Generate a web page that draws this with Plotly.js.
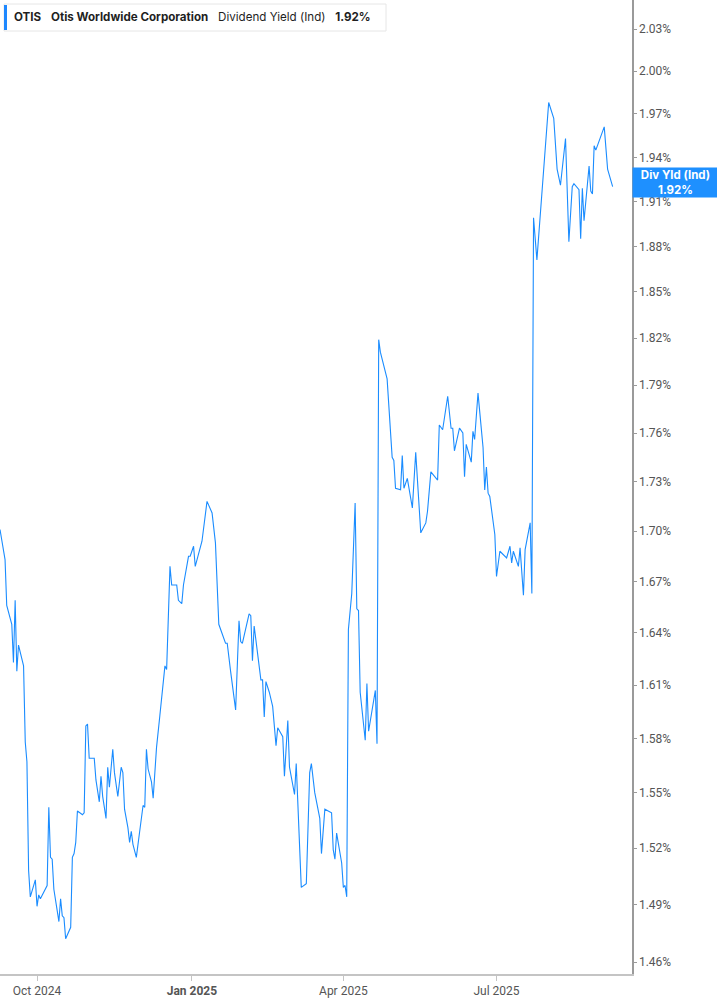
<!DOCTYPE html>
<html>
<head>
<meta charset="utf-8">
<script src="https://cdn.plot.ly/plotly-3.0.1.min.js"></script>
<style>
  html, body { margin: 0; padding: 0; background: #fff; }
  #myDiv { width: 717px; height: 1005px; }
</style>
</head>
<body>
<div id="myDiv"></div>
<script>
// dividend yield (ind), percent
let DATES = [
    "2024-09-09", "2024-09-12", "2024-09-13", "2024-09-16", "2024-09-17", "2024-09-18", "2024-09-19", "2024-09-20",
    "2024-09-23", "2024-09-24", "2024-09-25", "2024-09-26", "2024-09-27", "2024-09-30", "2024-10-01", "2024-10-02",
    "2024-10-03", "2024-10-07", "2024-10-08", "2024-10-09", "2024-10-10", "2024-10-11", "2024-10-14", "2024-10-15",
    "2024-10-16", "2024-10-17", "2024-10-18", "2024-10-21", "2024-10-22", "2024-10-23", "2024-10-24", "2024-10-25",
    "2024-10-28", "2024-10-29", "2024-10-30", "2024-10-31", "2024-11-01", "2024-11-04", "2024-11-05", "2024-11-07",
    "2024-11-08", "2024-11-09", "2024-11-11", "2024-11-12", "2024-11-13", "2024-11-15", "2024-11-16", "2024-11-18",
    "2024-11-20", "2024-11-21", "2024-11-22", "2024-11-24", "2024-11-25", "2024-11-26", "2024-11-27", "2024-11-29",
    "2024-12-01", "2024-12-03", "2024-12-04", "2024-12-05", "2024-12-06", "2024-12-08", "2024-12-09", "2024-12-11",
    "2024-12-13", "2024-12-16", "2024-12-17", "2024-12-19", "2024-12-20", "2024-12-23", "2024-12-24", "2024-12-26",
    "2024-12-27", "2024-12-30", "2024-12-31", "2025-01-02", "2025-01-03", "2025-01-07", "2025-01-10", "2025-01-13",
    "2025-01-15", "2025-01-17", "2025-01-21", "2025-01-22", "2025-01-24", "2025-01-27", "2025-01-29", "2025-01-30",
    "2025-01-31", "2025-02-04", "2025-02-05", "2025-02-06", "2025-02-07", "2025-02-11", "2025-02-12", "2025-02-13",
    "2025-02-14", "2025-02-16", "2025-02-18", "2025-02-20", "2025-02-21", "2025-02-24", "2025-02-25", "2025-02-27",
    "2025-02-28", "2025-03-03", "2025-03-04", "2025-03-07", "2025-03-10", "2025-03-12", "2025-03-13", "2025-03-15",
    "2025-03-18", "2025-03-19", "2025-03-21", "2025-03-25", "2025-03-26", "2025-03-27", "2025-03-28", "2025-03-31",
    "2025-04-01", "2025-04-02", "2025-04-03", "2025-04-04", "2025-04-06", "2025-04-08", "2025-04-09", "2025-04-10",
    "2025-04-11", "2025-04-14", "2025-04-15", "2025-04-16", "2025-04-20", "2025-04-21", "2025-04-22", "2025-04-23",
    "2025-04-27", "2025-04-30", "2025-05-01", "2025-05-02", "2025-05-05", "2025-05-06", "2025-05-07", "2025-05-09",
    "2025-05-12", "2025-05-14", "2025-05-17", "2025-05-20", "2025-05-21", "2025-05-23", "2025-05-27", "2025-05-28",
    "2025-05-30", "2025-06-02", "2025-06-04", "2025-06-05", "2025-06-06", "2025-06-09", "2025-06-11", "2025-06-12",
    "2025-06-13", "2025-06-16", "2025-06-17", "2025-06-18", "2025-06-20", "2025-06-23", "2025-06-24", "2025-06-25",
    "2025-06-26", "2025-06-27", "2025-06-30", "2025-07-01", "2025-07-03", "2025-07-07", "2025-07-09", "2025-07-10",
    "2025-07-11", "2025-07-14", "2025-07-15", "2025-07-17", "2025-07-18", "2025-07-21", "2025-07-22", "2025-07-23",
    "2025-07-25", "2025-07-28", "2025-08-01", "2025-08-04", "2025-08-06", "2025-08-08", "2025-08-11", "2025-08-13",
    "2025-08-15", "2025-08-16", "2025-08-19", "2025-08-20", "2025-08-21", "2025-08-22", "2025-08-25", "2025-08-26",
    "2025-08-27", "2025-08-28", "2025-08-29", "2025-09-03", "2025-09-05", "2025-09-08"
]

let YIELDS = [
    1.701, 1.683, 1.656, 1.645, 1.623, 1.659, 1.618, 1.633,
    1.621, 1.578, 1.567, 1.508, 1.494, 1.503, 1.489, 1.495,
    1.493, 1.500, 1.542, 1.515, 1.514, 1.498, 1.481, 1.493,
    1.484, 1.483, 1.472, 1.478, 1.515, 1.517, 1.523, 1.540,
    1.538, 1.539, 1.587, 1.588, 1.569, 1.569, 1.557, 1.545,
    1.559, 1.548, 1.536, 1.564, 1.553, 1.574, 1.561, 1.548,
    1.564, 1.561, 1.541, 1.531, 1.523, 1.529, 1.522, 1.515,
    1.529, 1.543, 1.542, 1.574, 1.563, 1.556, 1.547, 1.575,
    1.593, 1.621, 1.619, 1.679, 1.668, 1.668, 1.659, 1.657,
    1.668, 1.685, 1.685, 1.691, 1.679, 1.694, 1.718, 1.711,
    1.693, 1.645, 1.634, 1.634, 1.618, 1.596, 1.647, 1.635,
    1.634, 1.651, 1.650, 1.624, 1.644, 1.613, 1.613, 1.592,
    1.612, 1.606, 1.598, 1.576, 1.586, 1.581, 1.559, 1.590,
    1.564, 1.549, 1.566, 1.499, 1.501, 1.561, 1.566, 1.550,
    1.536, 1.517, 1.541, 1.539, 1.519, 1.514, 1.528, 1.512,
    1.499, 1.500, 1.494, 1.642, 1.663, 1.717, 1.654, 1.653,
    1.606, 1.579, 1.611, 1.584, 1.607, 1.577, 1.819, 1.811,
    1.794, 1.745, 1.743, 1.726, 1.725, 1.746, 1.726, 1.732,
    1.714, 1.748, 1.699, 1.705, 1.712, 1.736, 1.731, 1.765,
    1.762, 1.783, 1.763, 1.763, 1.749, 1.763, 1.760, 1.733,
    1.753, 1.742, 1.761, 1.756, 1.785, 1.751, 1.725, 1.739,
    1.723, 1.721, 1.698, 1.673, 1.688, 1.684, 1.691, 1.681,
    1.688, 1.679, 1.690, 1.662, 1.689, 1.705, 1.663, 1.899,
    1.871, 1.918, 1.978, 1.967, 1.932, 1.921, 1.953, 1.883,
    1.920, 1.922, 1.918, 1.885, 1.919, 1.897, 1.934, 1.917,
    1.915, 1.948, 1.945, 1.961, 1.932, 1.920
]

let Y_TICKS = [1.46, 1.49, 1.52, 1.55, 1.58, 1.61, 1.64, 1.67, 1.70, 1.73,
               1.76, 1.79, 1.82, 1.85, 1.88, 1.91, 1.94, 1.97, 2.00, 2.03]
let X_TICKS = ["2024-10-01", "2025-01-01", "2025-04-01", "2025-07-01"]
let X_TICK_LABELS = ["Oct 2024", "<b>Jan 2025</b>", "Apr 2025", "Jul 2025"]

let LINE_COLOR = "#1a8cff"
let W = 717, H = 1005
let M = { l: 0, r: 85, t: 0, b: 31 }

function px(x) { return x / (W - M.l - M.r) }       // pixel -> paper x
function py(y) { return 1 - y / (H - M.t - M.b) }   // pixel -> paper y

function drawChart() {
    let lastValue = YIELDS[YIELDS.length - 1]

    let trace1 = {
        x: DATES,
        y: YIELDS,
        mode: "lines",
        type: "scatter",
        line: { color: LINE_COLOR, width: 1.1 },
        hoverinfo: "skip"
    }

    let layout = {
        width: W,
        height: H,
        margin: M,
        paper_bgcolor: "#fff",
        plot_bgcolor: "#fff",
        showlegend: false,
        font: { family: "Roboto, 'Liberation Sans', sans-serif", size: 12, color: "#555" },
        xaxis: {
            type: "date",
            range: ["2024-09-09", "2025-09-19 12:00"],
            tickmode: "array",
            tickvals: X_TICKS,
            ticktext: X_TICK_LABELS,
            showgrid: false,
            zeroline: false,
            showline: true,
            linecolor: "#c4c4c4",
            linewidth: 2,
            ticks: "outside",
            ticklen: 5,
            tickwidth: 1,
            tickcolor: "#c4c4c4",
            tickfont: { size: 12, color: "#555" }
        },
        yaxis: {
            type: "log",
            side: "right",
            range: [0.162512, 0.311946],
            tickmode: "array",
            tickvals: Y_TICKS,
            ticktext: Y_TICKS.map(v => v.toFixed(2) + "%"),
            showgrid: false,
            zeroline: false,
            showline: true,
            linecolor: "#9a9a9a",
            linewidth: 1.5,
            ticks: "outside",
            ticklen: 3,
            tickcolor: "#9a9a9a",
            tickfont: { size: 12, color: "#555" }
        },
        shapes: [
            // header box
            {
                type: "rect", xref: "paper", yref: "paper",
                x0: px(4), x1: px(386), y0: py(31), y1: py(4),
                fillcolor: "#fff", line: { color: "#e6e6e6", width: 1 }
            },
            {
                type: "rect", xref: "paper", yref: "paper",
                x0: px(4), x1: px(7), y0: py(30), y1: py(5),
                fillcolor: "#1e88ff", line: { width: 0 }
            }
        ],
        annotations: [
            {
                xref: "paper", yref: "paper",
                x: px(12), y: py(17.5),
                xanchor: "left", yanchor: "middle",
                showarrow: false,
                text: "<b>OTIS</b>&nbsp;&nbsp;&nbsp;<b>Otis Worldwide Corporation</b>&nbsp;&nbsp;&nbsp;Dividend Yield (Ind)&nbsp;&nbsp;&nbsp;<b>" + lastValue.toFixed(2) + "%</b>",
                font: { family: "Inter, 'Noto Sans', sans-serif", size: 11.6, color: "#1f1f1f" }
            },
            {
                // current value tag on the right axis
                xref: "paper", yref: "paper",
                x: 1, y: py(182.5),
                xanchor: "left", yanchor: "middle",
                showarrow: false,
                text: "<b>Div Yld (Ind)</b><br><b>" + lastValue.toFixed(2) + "%</b>",
                align: "center",
                width: 81,
                height: 25,
                borderpad: 2,
                bgcolor: "#1e90ff",
                font: { family: "Inter, 'Noto Sans', sans-serif", size: 11.5, color: "#fff" }
            }
        ]
    }

    Plotly.newPlot("myDiv", [trace1], layout, { staticPlot: true, displayModeBar: false })
}

drawChart()
</script>
</body>
</html>
